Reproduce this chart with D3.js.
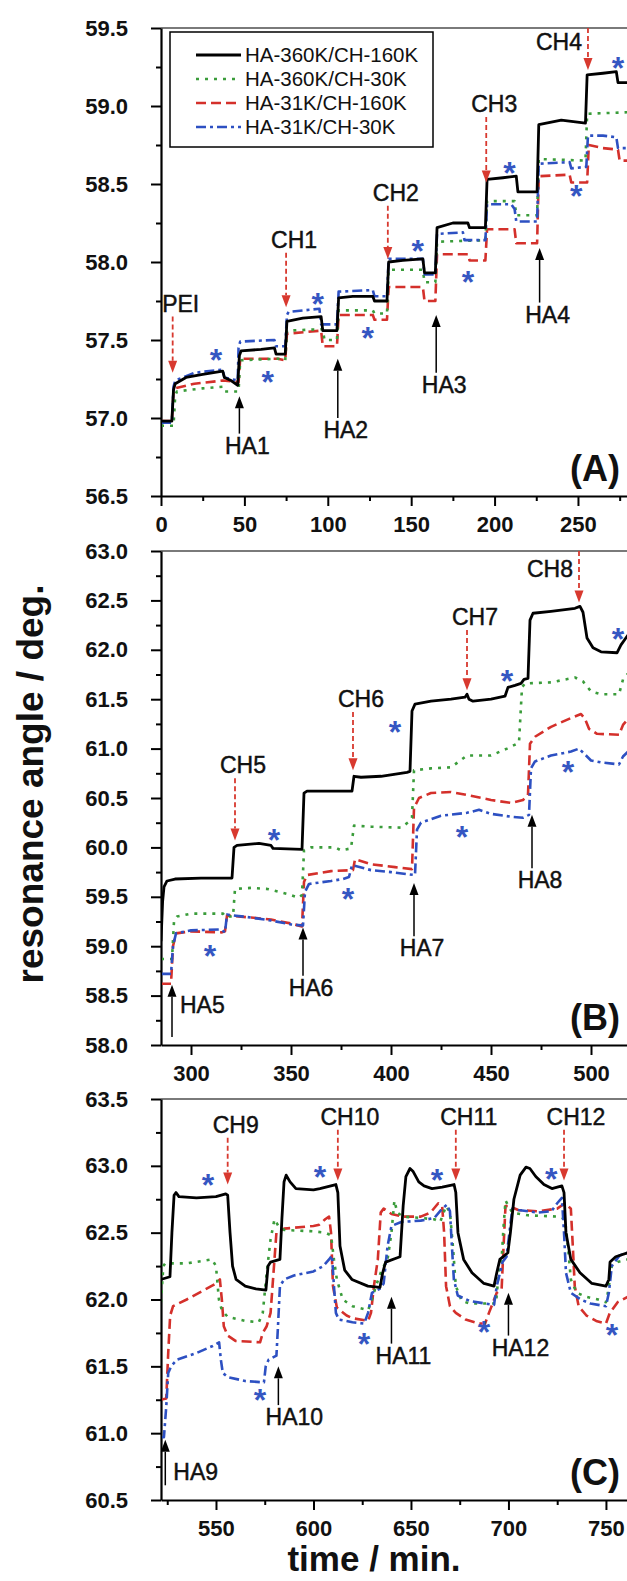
<!DOCTYPE html>
<html>
<head>
<meta charset="utf-8">
<script src="https://cdn.jsdelivr.net/npm/d3@7"></script>
<style>
  body { margin: 0; background: #fff; }
  svg { display: block; }
  text { font-family: "Liberation Sans", Arial, Helvetica, sans-serif; }
</style>
</head>
<body>
<svg id="chart" width="627" height="1581"></svg>
<script>
// ---- series names (legend order) ----
const seriesNames = ["HA-360K/CH-160K", "HA-360K/CH-30K", "HA-31K/CH-160K", "HA-31K/CH-30K"];
const panelNames = ["(A)", "(B)", "(C)"];

// ---- tick labels ----
const xTicksA = [0, 50, 100, 150, 200, 250];
const yTicksA = [56.5, 57.0, 57.5, 58.0, 58.5, 59.0, 59.5];
const xTicksB = [300, 350, 400, 450, 500];
const yTicksB = [58.0, 58.5, 59.0, 59.5, 60.0, 60.5, 61.0, 61.5, 62.0, 62.5, 63.0];
const xTicksC = [550, 600, 650, 700, 750];
const yTicksC = [60.5, 61.0, 61.5, 62.0, 62.5, 63.0, 63.5];

// ---- visible time windows (min) ----
const timeA = [0, 279.4];
const timeB = [285, 518];
const timeC = [521.8, 760.8];

// ---- panel A: resonance angle (deg) vs time (min) ----
const blackA = [[0,56.98],[6.5,56.98],[7.5,57.18],[8.5,57.22],[15,57.26],[25,57.28],[37,57.30],[38,57.26],[42,57.24],[46,57.21],[47,57.40],[48,57.43],[60,57.44],[68,57.45],[69,57.41],[74.5,57.41],[75.5,57.62],[85,57.64],[96,57.65],[97,57.56],[105.5,57.56],[106.5,57.77],[115,57.78],[127,57.78],[128,57.75],[135.5,57.75],[136.5,58.00],[145,58.01],[157,58.02],[158,57.93],[164.5,57.93],[165.5,58.22],[175,58.25],[184,58.25],[185,58.22],[194.5,58.22],[195.5,58.53],[205,58.54],[213,58.55],[214,58.45],[225.5,58.45],[226.5,58.88],[240,58.91],[254.5,58.89],[255.5,59.20],[265,59.21],[273,59.22],[274,59.15],[280,59.15]];
const greenA = [[0,56.95],[7.5,56.95],[8.5,57.14],[9.5,57.17],[25,57.19],[37,57.20],[38,57.17],[46.5,57.17],[47.5,57.37],[70,57.38],[74.5,57.37],[75.5,57.56],[97,57.57],[98,57.50],[105.5,57.50],[106.5,57.69],[127,57.69],[128,57.67],[135.5,57.67],[136.5,57.95],[157,57.95],[158,57.87],[164.5,57.87],[165.5,58.13],[194.5,58.14],[195.5,58.39],[212,58.39],[213,58.30],[225.5,58.30],[226.5,58.66],[254.5,58.65],[255.5,58.95],[280,58.96]];
const redA = [[0,56.98],[6.5,56.98],[7.5,57.16],[8.5,57.19],[20,57.22],[37,57.24],[46.5,57.23],[47.5,57.38],[70,57.38],[74.5,57.37],[75.5,57.54],[96,57.56],[97,57.46],[105.5,57.46],[106.5,57.66],[127,57.66],[128,57.63],[135.5,57.63],[136.5,57.84],[157,57.84],[158,57.75],[164.5,57.75],[165.5,58.05],[184,58.05],[185,58.01],[194.5,58.01],[195.5,58.21],[212,58.21],[213,58.12],[225.5,58.12],[226.5,58.55],[245,58.56],[246,58.51],[255.5,58.51],[256.5,58.75],[265,58.73],[274,58.72],[275,58.65],[280,58.65]];
const blueA = [[0,56.97],[6.5,56.97],[7.5,57.20],[8.5,57.24],[20,57.29],[37,57.31],[38,57.26],[46,57.24],[46.5,57.45],[47.5,57.49],[68,57.50],[69,57.46],[74.5,57.46],[75.5,57.66],[76.5,57.68],[95,57.70],[96,57.60],[105.5,57.60],[106.5,57.81],[127,57.82],[128,57.78],[135.5,57.78],[136.5,58.02],[157,58.02],[158,57.92],[164.5,57.92],[165.5,58.18],[181,58.19],[182,58.14],[194.5,58.14],[195.5,58.37],[210,58.37],[212,58.34],[213,58.26],[225.5,58.26],[226.5,58.63],[245,58.64],[246,58.60],[255,58.61],[256,58.81],[265,58.81],[273,58.80],[274,58.73],[280,58.73]];

// ---- panel B ----
const blackB = [[285,59.05],[285.8,59.45],[286.5,59.60],[288,59.66],[292,59.68],[305,59.69],[320.5,59.69],[321.5,60.00],[323,60.02],[334,60.04],[340,60.02],[341,59.99],[355.5,59.98],[356.5,60.55],[358,60.57],[370,60.57],[380.5,60.57],[381.5,60.72],[385,60.71],[395,60.72],[408,60.76],[409.5,60.77],[410.5,61.38],[412,61.45],[420,61.48],[430,61.50],[437,61.52],[438,61.55],[439,61.50],[441,61.48],[450,61.50],[457,61.53],[458.5,61.62],[462,61.64],[465,61.66],[466.5,61.70],[468.5,61.71],[469.5,62.30],[471,62.37],[480,62.39],[492,62.42],[494.5,62.44],[496,62.38],[498,62.12],[501,62.02],[505,61.98],[513,61.97],[515,62.05],[518.5,62.15]];
const greenB = [[285,58.87],[290.5,58.87],[291.5,59.25],[293,59.30],[300,59.33],[316,59.33],[317,59.30],[321,59.30],[322,59.58],[330,59.59],[338,59.58],[348,59.53],[354,59.49],[355.5,59.52],[356.5,59.97],[360,60.00],[372,60.00],[375,59.97],[380,59.99],[381.5,60.22],[390,60.21],[405,60.20],[409,60.26],[410.5,60.30],[411.5,60.78],[420,60.80],[430,60.81],[438,60.93],[450,60.93],[458,61.00],[464,61.06],[465.5,61.62],[467,61.66],[480,61.67],[492,61.72],[496,61.68],[500,61.58],[505,61.55],[514,61.55],[516,61.70],[518.5,61.76]];
const redB = [[285,58.62],[290,58.62],[291,59.00],[292.5,59.13],[300,59.15],[315.5,59.14],[317,59.15],[318,59.31],[330,59.29],[340,59.27],[350,59.23],[355.5,59.20],[356.5,59.65],[358,59.72],[370,59.76],[381,59.77],[382,59.88],[390,59.83],[402,59.80],[410.5,59.78],[411.5,60.40],[414,60.50],[420,60.55],[430,60.56],[438,60.53],[450,60.48],[460,60.45],[466,60.48],[468.5,60.53],[469.5,61.05],[472,61.12],[480,61.22],[490,61.31],[495,61.35],[497,61.30],[499,61.20],[503,61.15],[514,61.14],[516,61.24],[518.5,61.30]];
const blueB = [[285,58.72],[290,58.72],[291,59.00],[292.5,59.13],[300,59.16],[315,59.17],[317,59.14],[318,59.32],[330,59.29],[340,59.26],[350,59.22],[356,59.21],[357,59.55],[359,59.63],[370,59.66],[376,59.68],[379,59.70],[380.5,59.82],[390,59.77],[400,59.75],[412,59.72],[413,60.18],[415,60.25],[425,60.32],[438,60.35],[444,60.38],[450,60.34],[460,60.31],[466,60.30],[469,60.33],[470,60.80],[472,60.87],[480,60.93],[490,60.97],[494,61.00],[496,60.96],[500,60.88],[505,60.86],[514,60.84],[516,60.92],[518.5,60.97]];

// ---- panel C ----
const blackC = [[521.8,62.15],[526.4,62.17],[527.4,62.50],[528.5,62.78],[529.5,62.80],[531,62.77],[540,62.76],[550,62.77],[555,62.79],[556,62.78],[557.2,62.50],[558.5,62.25],[560.3,62.15],[565,62.10],[570.5,62.08],[575.6,62.07],[576.7,62.25],[578,62.28],[582.8,62.30],[583.8,62.60],[584.9,62.88],[586,62.93],[588,62.88],[591,62.83],[600,62.82],[603.3,62.83],[611.5,62.86],[612.5,62.80],[613.6,62.40],[616,62.22],[619.7,62.15],[627.9,62.10],[634.1,62.09],[635.5,62.20],[637,62.28],[644.4,62.32],[646,62.70],[647.4,62.92],[649.5,62.98],[651,62.96],[654,62.88],[656.7,62.85],[660.8,62.83],[666,62.84],[672.1,62.86],[673,62.80],[674.1,62.50],[677,62.30],[681.3,62.20],[687.4,62.12],[692.6,62.10],[694,62.20],[695.6,62.30],[699.7,62.35],[701,62.50],[702.8,62.75],[706,62.93],[709,62.99],[711,62.98],[714,62.92],[718.2,62.86],[722.3,62.83],[727.4,62.85],[728.5,62.80],[729.5,62.50],[732,62.30],[736.7,62.20],[742.8,62.12],[750,62.10],[751.5,62.15],[752.1,62.28],[755,62.32],[761.3,62.35]];
const greenC = [[521.8,61.98],[523,62.25],[524,62.27],[535,62.27],[548,62.30],[550,62.25],[551.5,62.00],[553,61.92],[556,61.87],[565,61.84],[572,61.83],[574,61.90],[576,62.20],[578,62.45],[580,62.60],[582,62.55],[585,62.52],[600,62.51],[606,62.50],[609,62.48],[610.5,62.30],[612,62.15],[615,62.00],[620,61.95],[628,61.92],[630,62.00],[632,62.10],[635,62.22],[638,62.30],[640,62.50],[641.5,62.74],[643,62.65],[646,62.62],[655,62.61],[662,62.60],[665,62.58],[668,62.70],[670,62.65],[671.5,62.40],[673,62.10],[676,61.99],[680,61.97],[693.6,61.97],[695,62.20],[696.5,62.30],[697.5,62.55],[698.5,62.74],[700,62.70],[702,62.65],[710,62.63],[726,62.62],[729,62.60],[730.5,62.40],[732,62.15],[735,62.05],[740,62.02],[746,62.00],[750,61.98],[751,62.05],[753,62.25],[756,62.28],[761.3,62.30]];
const redC = [[521.8,61.25],[524.5,61.26],[525.5,61.60],[526.5,61.88],[528,61.95],[535,62.00],[545,62.08],[550,62.12],[552,62.15],[553,62.00],[554,61.80],[556,61.73],[560,61.69],[572.6,61.68],[574,61.75],[576,61.80],[578,61.90],[579.5,62.20],[581,62.50],[585,62.53],[600,62.55],[603,62.56],[606,62.60],[608,62.62],[609,62.50],[610,62.10],[612,61.94],[617,61.88],[620,61.86],[628,61.84],[629.5,61.90],[631,62.10],[633,62.30],[634.5,62.65],[636,62.68],[640,62.64],[646,62.62],[655,62.62],[660,62.65],[664,62.72],[666,62.70],[667,62.50],[668,62.10],[670,61.95],[673,61.90],[678,61.85],[685,61.82],[688,61.82],[690,61.90],[694,62.05],[696.5,62.08],[697.5,62.40],[698.5,62.70],[700,62.70],[705,62.67],[715,62.66],[725,62.68],[729,62.72],[732,62.68],[733,62.40],[734,62.10],[736,61.95],[740,61.88],[745,61.84],[750,61.82],[752,61.90],[756,61.98],[761.3,62.02]];
const blueC = [[521.8,60.97],[523.3,60.97],[524.5,61.20],[525.5,61.45],[527,61.50],[530,61.55],[540,61.60],[548,61.65],[551.6,61.68],[552.5,61.55],[553.5,61.45],[556,61.42],[565,61.39],[574.6,61.38],[575.5,61.50],[577,61.55],[581,61.58],[581.8,61.80],[582.8,62.10],[585,62.15],[590,62.18],[600,62.21],[605,62.25],[608,62.30],[609.5,62.33],[610.5,62.10],[611.5,61.90],[613,61.85],[620,61.83],[626,61.82],[628,61.90],[630,62.05],[634,62.08],[636,62.12],[638,62.40],[640,62.55],[645,62.58],[655,62.59],[662,62.61],[666,62.68],[668.5,62.71],[670,62.66],[671,62.40],[672,62.15],[674,62.03],[680,61.99],[688,61.97],[692.6,61.96],[694,62.10],[697,62.28],[699,62.32],[700.5,62.50],[702,62.68],[705,62.67],[715,62.65],[722,62.66],[725,62.72],[727.4,62.76],[728.5,62.50],[729.5,62.20],[732,62.05],[737,62.00],[742,61.97],[750,61.95],[751.5,62.05],[753,62.25],[757,62.33],[761.3,62.35]];

// ---- injection events: [label, time, arrow tail, arrow tip] (deg) ----
const eventsA = [["PEI",7,57.65,57.29],["HA1",47,56.90,57.14],["CH1",75,58.06,57.71],["HA2",106,57.00,57.38],["CH2",136,58.36,58.02],["HA3",165,57.29,57.66],["CH3",195,58.93,58.51],["HA4",227,57.74,58.09],["CH4",256,59.50,59.23]];
const eventsB = [["HA5",290.5,58.08,58.61],["CH5",322,60.70,60.07],["HA6",356,58.70,59.19],["CH6",381,61.37,60.78],["HA7",411.5,59.10,59.64],["CH7",438,62.20,61.59],["HA8",470.5,59.79,60.33],["CH8",494,63.00,62.48]];
const eventsC = [["HA9",524,60.61,60.95],["CH9",556,63.21,62.86],["HA10",582,61.21,61.50],["CH10",612.5,63.27,62.89],["HA11",640,61.67,62.02],["CH11",673,63.27,62.89],["HA12",700,61.73,62.05],["CH12",728.5,63.27,62.89]];

// ---- rinse markers (*) ----
const starsA = [[33,57.41],[64,57.27],[94,57.77],[124,57.55],[154,58.11],[184,57.91],[209,58.61],[249,58.46],[274,59.28]];
const starsB = [[309.5,58.96],[341.5,60.14],[378.5,59.54],[402,61.23],[435.5,60.17],[458,61.75],[488.5,60.82],[513.5,62.17]];
const starsC = [[545.9,62.90],[572.6,61.29],[603.3,62.96],[625.9,61.71],[663.4,62.94],[687.4,61.80],[721.9,62.95],[753.1,61.78]];

// ---- drawing ----
const W = 627, H = 1581;
const left = 161, right = 627;
const FONT = '"Liberation Sans", Arial, Helvetica, sans-serif';
const lineStyles = [
  { color: "#000000", width: 2.8, dash: null },
  { color: "#3a9c3a", width: 2.6, dash: "3,6" },
  { color: "#d4302b", width: 2.6, dash: "10,5" },
  { color: "#2d50c2", width: 2.6, dash: "10,4,3,4" }
];
const starColor = "#3556c2";
const addColor = "#d8392f";

// label layout: [side, dx, dy] relative to the arrow tail; defaults are
// above (CH/PEI) or below (HA) the tail
const labelPlacement = {
  CH4: ["left", -6, 22], CH8: ["left", -6, 26],
  HA5: ["right", 8, -24], HA9: ["right", 8, -5],
  HA10: ["below", 16, 20], HA11: ["below", 12, 20], HA12: ["below", 12, 20],
  CH10: ["above", 12, -5], CH11: ["above", 13, -5], CH12: ["above", 12, -5]
};

const panels = [
  { time: timeA, yDom: [56.5, 59.5], top: 28, bottom: 496, xt: xTicksA, yt: yTicksA,
    series: [blackA, greenA, redA, blueA], events: eventsA, stars: starsA, name: panelNames[0] },
  { time: timeB, yDom: [58.0, 63.0], top: 551, bottom: 1045, xt: xTicksB, yt: yTicksB,
    series: [blackB, greenB, redB, blueB], events: eventsB, stars: starsB, name: panelNames[1] },
  { time: timeC, yDom: [60.5, 63.5], top: 1099, bottom: 1500, xt: xTicksC, yt: yTicksC,
    series: [blackC, greenC, redC, blueC], events: eventsC, stars: starsC, name: panelNames[2] }
];

const svg = d3.select("#chart");
svg.append("rect").attr("width", W).attr("height", H).attr("fill", "#fff");
const defs = svg.append("defs");

function styleAxis(sel, withText) {
  sel.select(".domain").attr("stroke", "#000").attr("stroke-width", 2.2);
  sel.selectAll(".tick line").attr("stroke", "#000").attr("stroke-width", 2);
  sel.selectAll("text")
    .attr("fill", "#111")
    .style("font-family", FONT)
    .style("font-size", "22px")
    .style("font-weight", "bold");
  if (!withText) sel.selectAll("text").remove();
}

panels.forEach((p, pi) => {
  const x = d3.scaleLinear().domain(p.time).range([left, right]);
  const y = d3.scaleLinear().domain(p.yDom).range([p.bottom, p.top]);
  const g = svg.append("g");

  // top frame
  g.append("line").attr("x1", left).attr("x2", right).attr("y1", p.top).attr("y2", p.top)
    .attr("stroke", "#7a7a7a").attr("stroke-width", 2);

  // minor ticks
  const xs = p.xt[1] - p.xt[0];
  const xMinor = d3.range(p.xt[0] - xs / 2, p.time[1], xs).filter(v => v >= p.time[0]);
  const ys = p.yt[1] - p.yt[0];
  const yMinor = d3.range(p.yt[0] + ys / 2, p.yDom[1], ys);
  const gxm = g.append("g").attr("transform", `translate(0,${p.bottom})`)
    .call(d3.axisBottom(x).tickValues(xMinor).tickSize(5).tickSizeOuter(0));
  styleAxis(gxm, false); gxm.select(".domain").remove();
  const gym = g.append("g").attr("transform", `translate(${left},0)`)
    .call(d3.axisLeft(y).tickValues(yMinor).tickSize(5).tickSizeOuter(0));
  styleAxis(gym, false); gym.select(".domain").remove();

  // major axes
  const gx = g.append("g").attr("transform", `translate(0,${p.bottom})`)
    .call(d3.axisBottom(x).tickValues(p.xt).tickSize(10).tickSizeOuter(0).tickPadding(10).tickFormat(d3.format("d")));
  styleAxis(gx, true);
  const gy = g.append("g").attr("transform", `translate(${left},0)`)
    .call(d3.axisLeft(y).tickValues(p.yt).tickSize(10).tickSizeOuter(0).tickPadding(23).tickFormat(d3.format(".1f")));
  styleAxis(gy, true);

  // clip for data
  const cid = "clip" + pi;
  defs.append("clipPath").attr("id", cid).append("rect")
    .attr("x", left + 1).attr("y", p.top).attr("width", right - left).attr("height", p.bottom - p.top - 1);

  const line = d3.line().x(d => x(d[0])).y(d => y(d[1]));
  const plot = g.append("g").attr("clip-path", `url(#${cid})`);
  [2, 1, 3, 0].forEach(si => {
    const st = lineStyles[si];
    plot.append("path").datum(p.series[si])
      .attr("d", line)
      .attr("fill", "none")
      .attr("stroke", st.color)
      .attr("stroke-width", st.width)
      .attr("stroke-linejoin", "round")
      .attr("stroke-dasharray", st.dash);
  });

  // rinse markers
  g.selectAll(null).data(p.stars).enter().append("text")
    .attr("x", d => x(d[0])).attr("y", d => y(d[1]) + 17)
    .attr("text-anchor", "middle")
    .style("font-size", "32px").style("font-weight", "bold")
    .attr("fill", starColor)
    .text("*");

  // injection arrows
  p.events.forEach(([label, t, tail, tip]) => {
    const isAdd = !label.startsWith("HA");
    const ax = x(t), yTail = y(tail), yTip = y(tip);
    const col = isAdd ? addColor : "#000";
    const dir = isAdd ? 1 : -1;
    const head = 12, hw = 4.5;
    g.append("line")
      .attr("x1", ax).attr("x2", ax).attr("y1", yTail).attr("y2", yTip - dir * head)
      .attr("stroke", col).attr("stroke-width", isAdd ? 1.8 : 1.5)
      .attr("stroke-dasharray", isAdd ? "5,3" : null);
    g.append("path")
      .attr("d", `M${ax},${yTip}L${ax - hw},${yTip - dir * head}L${ax + hw},${yTip - dir * head}Z`)
      .attr("fill", col);

    const place = labelPlacement[label] || (isAdd ? ["above", 8, -5] : ["below", 8, 20]);
    const [side, dx, dy] = place;
    const anchor = side === "left" ? "end" : side === "right" ? "start" : "middle";
    g.append("text").attr("x", ax + dx).attr("y", yTail + dy).attr("text-anchor", anchor)
      .style("font-size", "23px").attr("fill", "#111")
      .attr("stroke", "#111").attr("stroke-width", 0.45)
      .text(label);
  });

  // panel tag
  g.append("text").attr("x", 620).attr("y", p.bottom - 15).attr("text-anchor", "end")
    .style("font-size", "36px").style("font-weight", "bold").attr("fill", "#111").text(p.name);
});

// legend
const lg = svg.append("g");
lg.append("rect").attr("x", 170).attr("y", 32).attr("width", 263).attr("height", 115)
  .attr("fill", "#fff").attr("stroke", "#000").attr("stroke-width", 1.5);
seriesNames.forEach((nm, i) => {
  const cy = 55 + 24 * i;
  const st = lineStyles[i];
  lg.append("line").attr("x1", 196).attr("x2", 241).attr("y1", cy).attr("y2", cy)
    .attr("stroke", st.color).attr("stroke-width", st.width).attr("stroke-dasharray", st.dash);
  lg.append("text").attr("x", 245).attr("y", cy + 7).style("font-size", "20.5px")
    .attr("fill", "#111").text(nm);
});

// axis titles
svg.append("text").attr("transform", "translate(43,784) rotate(-90)")
  .attr("text-anchor", "middle").style("font-size", "37px").style("font-weight", "bold")
  .attr("fill", "#111").text("resonance angle / deg.");
svg.append("text").attr("x", 374).attr("y", 1571)
  .attr("text-anchor", "middle").style("font-size", "35px").style("font-weight", "bold")
  .attr("fill", "#111").text("time / min.");
</script>
</body>
</html>
